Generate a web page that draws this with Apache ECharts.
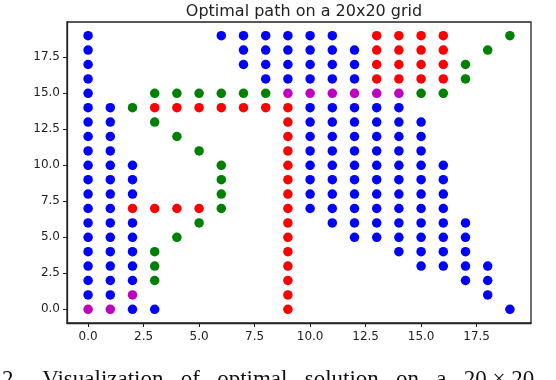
<!DOCTYPE html>
<html>
<head>
<meta charset="utf-8">
<script src="https://cdn.jsdelivr.net/npm/echarts@6/dist/echarts.min.js"></script>
<style>
  html, body { margin: 0; padding: 0; background: #fff; }
  #chart { width: 556px; height: 380px; }
</style>
</head>
<body>
<div id="chart"></div>
<script>
// grid cells by colour, [x, y]
const bluePoints = [
  [0,1],[0,2],[0,3],[0,4],[0,5],[0,6],[0,7],[0,8],[0,9],[0,10],[0,11],[0,12],[0,13],[0,14],[0,15],[0,16],[0,17],[0,18],[0,19],
  [1,1],[1,2],[1,3],[1,4],[1,5],[1,6],[1,7],[1,8],[1,9],[1,10],[1,11],[1,12],[1,13],[1,14],
  [2,0],[2,2],[2,3],[2,4],[2,5],[2,6],[2,8],[2,9],[2,10],
  [3,0],
  [6,19],
  [7,17],[7,18],[7,19],
  [8,16],[8,17],[8,18],[8,19],
  [9,16],[9,17],[9,18],[9,19],
  [10,7],[10,8],[10,9],[10,10],[10,11],[10,12],[10,13],[10,14],[10,16],[10,17],[10,18],[10,19],
  [11,6],[11,7],[11,8],[11,9],[11,10],[11,11],[11,12],[11,13],[11,14],[11,16],[11,17],[11,18],[11,19],
  [12,5],[12,6],[12,7],[12,8],[12,9],[12,10],[12,11],[12,12],[12,13],[12,14],[12,16],[12,17],[12,18],
  [13,5],[13,6],[13,7],[13,8],[13,9],[13,10],[13,11],[13,12],[13,13],[13,14],
  [14,4],[14,5],[14,6],[14,7],[14,8],[14,9],[14,10],[14,11],[14,12],[14,13],[14,14],
  [15,3],[15,4],[15,5],[15,6],[15,7],[15,8],[15,9],[15,10],[15,11],[15,12],[15,13],
  [16,3],[16,4],[16,5],[16,6],[16,7],[16,8],[16,9],[16,10],
  [17,2],[17,3],[17,4],[17,5],[17,6],
  [18,1],[18,2],[18,3],
  [19,0]
];
const redPoints = [
  [2,7],[3,7],[4,7],[5,7],
  [3,14],[4,14],[5,14],[6,14],[7,14],[8,14],
  [9,0],[9,1],[9,2],[9,3],[9,4],[9,5],[9,6],[9,7],[9,8],[9,9],[9,10],[9,11],[9,12],[9,13],[9,14],
  [13,16],[13,17],[13,18],[13,19],[14,16],[14,17],[14,18],[14,19],
  [15,16],[15,17],[15,18],[15,19],[16,16],[16,17],[16,18],[16,19]
];
const greenPoints = [
  [2,14],[3,15],[4,15],[5,15],[6,15],[7,15],[8,15],
  [3,13],[4,12],[5,11],[6,10],[6,9],[6,8],[6,7],
  [3,2],[3,3],[3,4],[4,5],[5,6],
  [15,15],[16,15],[17,16],[17,17],[18,18],[19,19]
];
const magentaPoints = [
  [0,0],[1,0],[2,1],
  [9,15],[10,15],[11,15],[12,15],[13,15],[14,15]
];
const tickValues = [0, 2.5, 5, 7.5, 10, 12.5, 15, 17.5];

const chart = echarts.init(document.getElementById('chart'));

function axis(type) {
  return {
    type: 'value',
    min: -0.95,
    max: 19.95,
    splitLine: {show: false},
    axisLine: {show: true, onZero: false, lineStyle: {color: '#222', width: 1.3}},
    axisTick: {show: true, length: 4, customValues: tickValues, lineStyle: {color: '#222'}},
    axisLabel: {
      customValues: tickValues,
      color: '#222',
      fontFamily: 'DejaVu Sans',
      fontSize: 12,
      margin: type === 'x' ? 8 : 7,
      formatter: v => v.toFixed(1)
    }
  }
}

function scatter(data, color) {
  return {
    type: 'scatter',
    data: data,
    symbol: 'circle',
    symbolSize: 9.5,
    itemStyle: {color: color, opacity: 1},
    silent: true
  }
}

chart.setOption({
  animation: false,
  title: {
    text: 'Optimal path on a 20x20 grid',
    left: 299,
    top: -1,
    textAlign: 'center',
    textStyle: {fontFamily: 'DejaVu Sans', fontSize: 16, fontWeight: 'normal', color: '#222'}
  },
  grid: {
    left: 67, right: 25, top: 22, bottom: 57,
    show: true,
    borderColor: '#222',
    borderWidth: 1.3
  },
  xAxis: axis('x'),
  yAxis: axis('y'),
  series: [
    scatter(bluePoints, '#0000ff'),
    scatter(redPoints, '#ff0000'),
    scatter(greenPoints, '#008000'),
    scatter(magentaPoints, '#bf00bf')
  ],
  graphic: [{
    type: 'text',
    left: 2,
    top: 368,
    style: {
      text: '2.    Visualization   of   optimal   solution   on   a   20 × 20',
      fontFamily: 'Liberation Serif',
      fontSize: 23,
      fill: '#111'
    }
  }]
});
</script>
</body>
</html>
